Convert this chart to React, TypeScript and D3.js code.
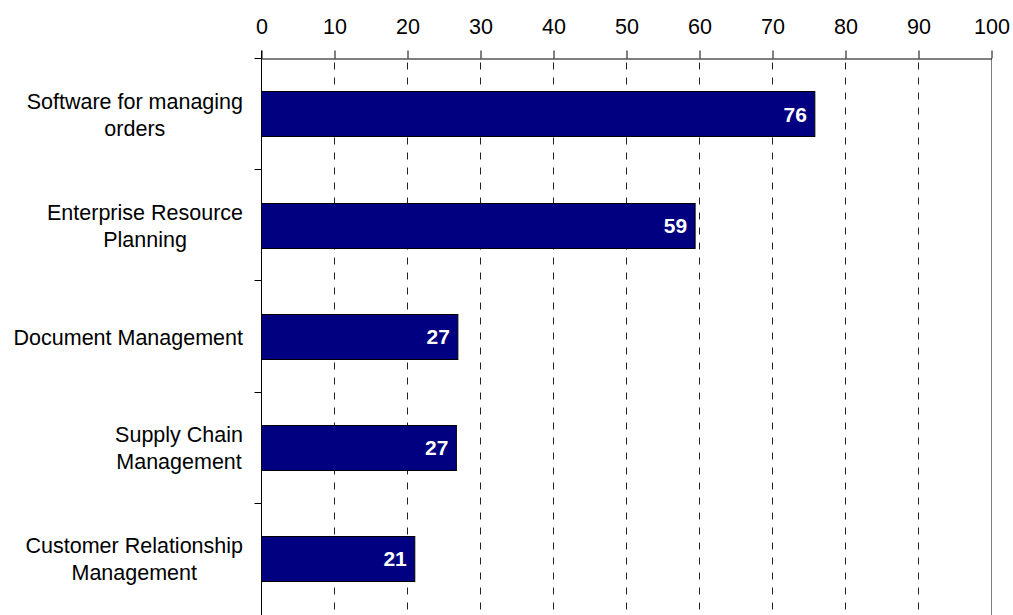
import React, { useEffect, useRef } from "react";
import * as d3 from "d3";

const categories: string[][] = [
  ["Software for managing", "orders"],
  ["Enterprise Resource", "Planning"],
  ["Document Management"],
  ["Supply Chain", "Management"],
  ["Customer Relationship", "Management"],
];
const values: number[] = [75.8, 59.4, 26.9, 26.7, 21.0];
const valueLabels: string[] = ["76", "59", "27", "27", "21"];
const xTicks: number[] = [0, 10, 20, 30, 40, 50, 60, 70, 80, 90, 100];

const W = 1013;
const H = 615;
const FONT = "Arial, 'Liberation Sans', sans-serif";

export default function App() {
  const ref = useRef<SVGSVGElement | null>(null);

  useEffect(() => {
    const svg = d3.select(ref.current);
    svg.selectAll("*").remove();

    const left = 261.5;
    const right = 991.5;
    const top = 58.5;
    const bottom = 614.5;

    const x = d3.scaleLinear().domain([0, 100]).range([left, right]);
    const keys = categories.map((c) => c.join(" "));
    const y = d3
      .scaleBand<string>()
      .domain(keys)
      .range([top, bottom])
      .paddingInner(0.593)
      .paddingOuter(0.2965);
    const step = y.step();
    const crisp = (v: number) => Math.round(v - 0.5) + 0.5;

    // gridlines
    svg
      .append("g")
      .selectAll("line")
      .data(xTicks.filter((t) => t > 0 && t < 100))
      .join("line")
      .attr("x1", (d) => crisp(x(d)))
      .attr("x2", (d) => crisp(x(d)))
      .attr("y1", top)
      .attr("y2", H)
      .attr("stroke", "#222")
      .attr("stroke-width", 1)
      .attr("stroke-dasharray", "7,8")
      .attr("stroke-dashoffset", -4);

    // right border
    svg
      .append("line")
      .attr("x1", crisp(x(100)))
      .attr("x2", crisp(x(100)))
      .attr("y1", top)
      .attr("y2", H)
      .attr("stroke", "#808080")
      .attr("stroke-width", 1);

    // bars
    svg
      .append("g")
      .selectAll("rect")
      .data(values)
      .join("rect")
      .attr("x", x(0))
      .attr("y", (_, i) => Math.round(y(keys[i])!) + 0.5)
      .attr("width", (d) => x(d) - x(0))
      .attr("height", Math.round(y.bandwidth()))
      .attr("fill", "#000080")
      .attr("stroke", "#000")
      .attr("stroke-width", 1);

    // value labels
    svg
      .append("g")
      .selectAll("text")
      .data(values)
      .join("text")
      .attr("x", (d) => x(d) - 8)
      .attr("y", (_, i) => y(keys[i])! + y.bandwidth() / 2 + 7.5)
      .attr("text-anchor", "end")
      .attr("fill", "#fff")
      .attr("font-family", FONT)
      .attr("font-weight", "bold")
      .attr("font-size", 21)
      .text((_, i) => valueLabels[i]);

    // top axis
    const axis = d3
      .axisTop(x)
      .tickValues(xTicks)
      .tickSize(8)
      .tickSizeOuter(0)
      .tickPadding(17)
      .tickFormat((d) => String(d));
    const ag = svg.append("g").attr("transform", `translate(0,${top})`).call(axis);
    ag.select(".domain").attr("stroke", "#000");
    ag.selectAll(".tick line").attr("stroke", "#000");
    ag.selectAll(".tick text")
      .attr("font-family", FONT)
      .attr("font-size", 21.5)
      .attr("fill", "#000");
    ag.attr("font-family", null).attr("font-size", null);

    // left axis line
    svg
      .append("line")
      .attr("x1", left)
      .attr("x2", left)
      .attr("y1", top - 8)
      .attr("y2", H)
      .attr("stroke", "#000");

    // left ticks at band boundaries
    svg
      .append("g")
      .selectAll("line")
      .data(d3.range(keys.length))
      .join("line")
      .attr("x1", left - 7)
      .attr("x2", left)
      .attr("y1", (i) => crisp(top + i * step))
      .attr("y2", (i) => crisp(top + i * step))
      .attr("stroke", "#000");

    // category labels
    const labelRight = 243;
    const lineH = 27;
    categories.forEach((lines, i) => {
      const cy = y(keys[i])! + y.bandwidth() / 2;
      const g = svg.append("g");
      const texts = lines.map((ln, j) =>
        g
          .append("text")
          .attr("font-family", FONT)
          .attr("font-size", 21.5)
          .attr("fill", "#000")
          .attr("y", cy + (j - (lines.length - 1) / 2) * lineH + 8)
          .text(ln)
      );
      const widths = texts.map((t) => (t.node() as SVGTextElement).getComputedTextLength());
      const maxW = Math.max(...widths);
      texts.forEach((t) => t.attr("text-anchor", "middle").attr("x", labelRight - maxW / 2));
    });
  }, []);

  return (
    <svg
      ref={ref}
      width={W}
      height={H}
      style={{ position: "absolute", left: 0, top: 0, display: "block", background: "#fff" }}
    />
  );
}
